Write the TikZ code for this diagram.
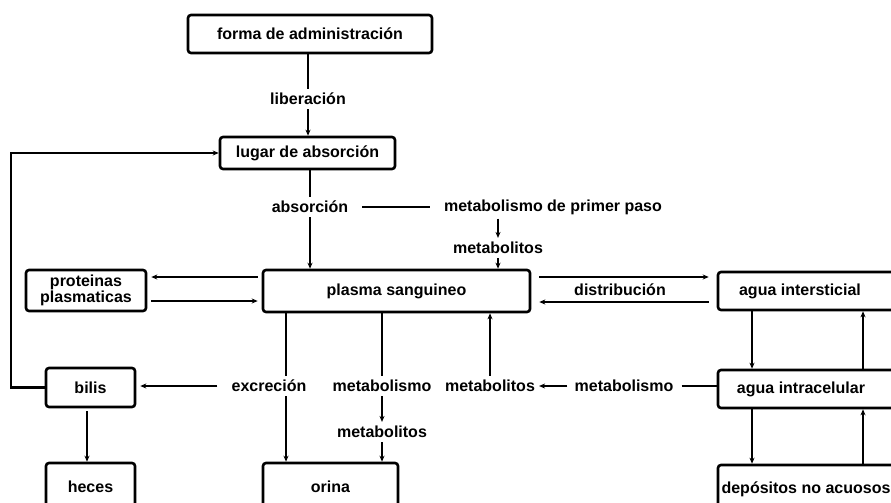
\documentclass[tikz,border=0pt]{standalone}
\usepackage{fontspec}
\setmainfont{Liberation Sans}
\usetikzlibrary{arrows.meta}
\newcommand{\lblfont}{\fontsize{16}{16}\selectfont\bfseries}
\tikzset{
  box/.style={draw, line width=2.6pt, rounded corners=3pt, inner sep=0pt, font=\lblfont, align=center},
  lab/.style={inner sep=4pt, font=\lblfont},
  ln/.style={line width=2.2pt},
  arr/.style={ln, -{Stealth[length=6pt,width=5pt]}},
  gap/.style={shorten <=#1, shorten >=#1},
}
\begin{document}
\begin{tikzpicture}[x=1pt,y=-1pt]
\useasboundingbox (0,0) rectangle (891,503);
\fill[white] (0,0) rectangle (891,503);
\clip (0,0) rectangle (891,503);

% boxes
\node[box, minimum width=244, minimum height=38] (forma) at (310,34) {forma de administración};
\node[box, minimum width=175, minimum height=32] (lugar) at (307.5,153) {lugar de absorción};
\node[box, minimum width=267, minimum height=42] (plasma) at (396.5,291) {plasma sanguineo};
\node[box, minimum width=120, minimum height=41] (prot) at (86,290.5) {proteinas\\plasmaticas};
\node[box, minimum width=89, minimum height=39] (bilis) at (90.5,387.5) {bilis};
\node[box, minimum width=89, minimum height=48] (heces) at (90.5,487) {heces};
\node[box, minimum width=135, minimum height=48] (orina) at (330.5,487) {orina};
\node[box, minimum width=200, minimum height=38] (inter) at (818,291) {agua intersticial\hspace{36pt}};
\node[box, minimum width=200, minimum height=38] (intra) at (818,389) {agua intracelular\hspace{34pt}};
\node[box, minimum width=200, minimum height=48] (depo) at (818,489) {depósitos no acuosos\hspace{24pt}};

% labels
\node[lab] (lib) at (308,99) {liberación};
\node[lab] (abs) at (310,207) {absorción};
\node[lab] (mpp) at (553,207) {metabolismo de primer paso};
\node[lab] (met1) at (498,248) {metabolitos};
\node[lab] (dist) at (620,290) {distribución};
\node[lab] (exc) at (269,386) {excreción};
\node[lab] (mbl) at (382,386) {metabolismo};
\node[lab] (mts) at (382,432) {metabolitos};
\node[lab] (mtr) at (490,386) {metabolitos};
\node[lab] (mbr) at (624,386) {metabolismo};

% connectors
\draw[ln] (forma.south -| lib) -- (lib.north);
\draw[arr] (lib.south) -- (lugar.north -| lib);

\draw[ln] (lugar.south -| abs) -- (abs.north);
\draw[arr] (abs.south) -- (plasma.north -| abs);
\draw[ln, gap=10pt] (abs.east) -- (mpp.west);
\draw[arr] (mpp.south -| met1) -- (met1.north);
\draw[arr] (met1.south) -- (plasma.north -| met1);

\draw[arr, gap=4pt] (plasma.west |- 0,277) -- (prot.east |- 0,277);
\draw[arr, gap=4pt] (prot.east |- 0,301) -- (plasma.west |- 0,301);

\draw[arr, gap=8pt] (plasma.east |- 0,277) -- (inter.west |- 0,277);
\draw[arr, gap=8pt] (inter.west |- 0,302) -- (plasma.east |- 0,302);

\draw[ln] (plasma.south -| 286,0) -- (exc.north -| 286,0);
\draw[arr] (exc.south -| 286,0) -- (orina.north -| 286,0);
\draw[arr, shorten <=10pt, shorten >=4pt] (exc.west) -- (exc.west -| bilis.east);

\draw[ln] (plasma.south -| mbl) -- (mbl.north);
\draw[arr] (mbl.south) -- (mts.north);
\draw[arr] (mts.south) -- (orina.north -| mts);

\draw[arr] (mtr.north) -- (plasma.south -| mtr);
\draw[arr, shorten <=3pt] (mbr.west) -- (mtr.east);
\draw[ln, shorten <=4pt] (mbr.east) -- (mbr.east -| intra.west);

\draw[arr] (inter.south -| 752,0) -- (intra.north -| 752,0);
\draw[arr] (intra.north -| 863,0) -- (inter.south -| 863,0);
\draw[arr] (intra.south -| 752,0) -- (depo.north -| 752,0);
\draw[arr] (depo.north -| 863,0) -- (intra.south -| 863,0);

\draw[arr, shorten <=3pt] (bilis.south -| 87,0) -- (heces.north -| 87,0);
\draw[arr] (bilis.west) -- ++(-34,0) |- (lugar.west);
\end{tikzpicture}
\end{document}
